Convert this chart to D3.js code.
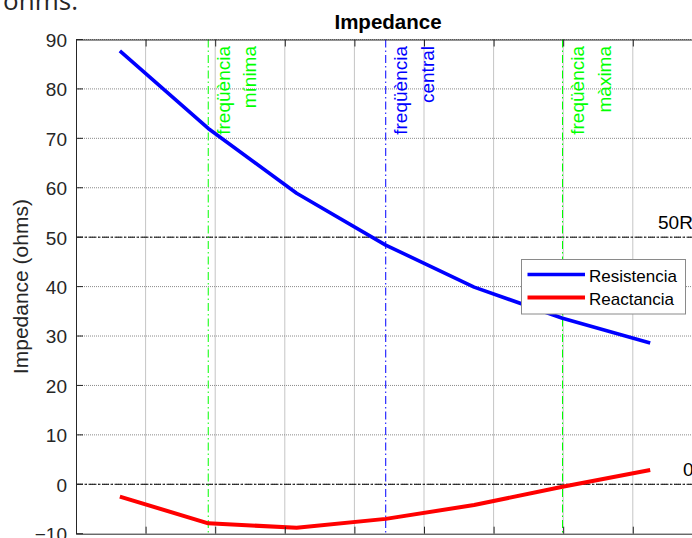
<!DOCTYPE html>
<html>
<head>
<meta charset="utf-8">
<script src="https://cdn.jsdelivr.net/npm/d3@7"></script>
<style>
  html, body { margin: 0; padding: 0; background: #fff; }
  svg { display: block; }
  text { font-family: "Liberation Sans", Arial, Helvetica, sans-serif; }
</style>
</head>
<body>
<svg id="chart" width="692" height="538"></svg>
<script>
// Sweep points (frequency axis units) and measured impedance
const freqs       = [0.63, 1.90, 3.17, 4.45, 5.72, 6.99, 8.25];
const resistencia = [87.7, 72.0, 58.9, 48.4, 39.9, 33.6, 28.6];
const reactancia  = [-2.5, -7.9, -8.8, -7.0, -4.2, -0.5, 2.9];

// Axis ticks
const xTicks = [0, 1, 2, 3, 4, 5, 6, 7, 8, 9];
const yTicks = [-10, 0, 10, 20, 30, 40, 50, 60, 70, 80, 90];

// Band markers: minimum, central and maximum frequency
const markerFreqs  = [1.90, 4.45, 6.99];
const markerLabels = [["freqüència", "mínima"], ["freqüència", "central"], ["freqüència", "màxima"]];
const markerColors = ["#00ff00", "#0000ff", "#00ff00"];

// Reference levels
const refLevels = [50, 0];
const refLabels = ["50R", "0"];

const seriesNames  = ["Resistencia", "Reactancia"];
const seriesColors = ["#0000ff", "#ff0000"];

const svg = d3.select("#chart");
const plotLeft = 76, plotRight = 702.4, plotTop = 39.5, plotBottom = 533.7;

const x = d3.scaleLinear().domain([0, 9]).range([plotLeft, plotRight]);
const y = d3.scaleLinear().domain([-10, 90]).range([plotBottom, plotTop]);

const axisColor = "#262626";

// Document text fragment above the figure
svg.append("text")
  .attr("x", 78).attr("y", 9.5)
  .attr("text-anchor", "end")
  .style("font-family", "'Open Sans', sans-serif")
  .style("font-size", "26px")
  .attr("fill", "#262626")
  .text("ohms.");

// Grid
const grid = svg.append("g");
grid.selectAll("line.gx").data(xTicks.slice(1)).join("line")
  .attr("x1", d => x(d)).attr("x2", d => x(d))
  .attr("y1", plotTop).attr("y2", plotBottom)
  .attr("stroke", "#8a8a8a").attr("stroke-width", 1)
  .attr("stroke-dasharray", "1,1");
grid.selectAll("line.gy").data(yTicks.slice(1)).join("line")
  .attr("x1", plotLeft).attr("x2", plotRight)
  .attr("y1", d => y(d)).attr("y2", d => y(d))
  .attr("stroke", "#8a8a8a").attr("stroke-width", 1)
  .attr("stroke-dasharray", "1,1");

// Reference levels (dash-dot)
svg.selectAll("line.ref").data(refLevels).join("line")
  .attr("x1", plotLeft).attr("x2", plotRight)
  .attr("y1", d => y(d)).attr("y2", d => y(d))
  .attr("stroke", "#000").attr("stroke-width", 1)
  .attr("stroke-dasharray", "7,2,2,2");
svg.selectAll("text.ref").data(refLevels).join("text")
  .attr("x", (d, i) => i === 0 ? 658 : 683)
  .attr("y", d => y(d) - 8.5)
  .style("font-size", "19px")
  .attr("fill", "#000")
  .text((d, i) => refLabels[i]);

// Frequency markers
svg.selectAll("line.mk").data(markerFreqs).join("line")
  .attr("x1", d => x(d)).attr("x2", d => x(d))
  .attr("y1", plotTop).attr("y2", plotBottom)
  .attr("stroke", (d, i) => markerColors[i]).attr("stroke-width", 1)
  .attr("stroke-dasharray", "8,3,1.5,3");

markerFreqs.forEach((f, i) => {
  markerLabels[i].forEach((line, j) => {
    svg.append("text")
      .attr("transform", `translate(${x(f) + 21.5 + j * 26.5},46) rotate(-90)`)
      .attr("text-anchor", "end")
      .style("font-size", "19px")
      .attr("fill", markerColors[i])
      .text(line);
  });
});

// Series
const lineGen = d3.line().x((d, i) => x(freqs[i])).y(d => y(d));
[resistencia, reactancia].forEach((vals, k) => {
  svg.append("path")
    .datum(vals)
    .attr("d", lineGen)
    .attr("fill", "none")
    .attr("stroke", seriesColors[k])
    .attr("stroke-width", k === 0 ? 3.6 : 4)
    .attr("stroke-linejoin", "round");
});

// Axes (box with inward ticks)
const tickLen = 7;
const yAxisL = d3.axisLeft(y).tickValues(yTicks).tickSize(0).tickPadding(9);
const gL = svg.append("g").attr("transform", `translate(${plotLeft},0)`).call(yAxisL);
gL.select(".domain").attr("stroke", axisColor);
gL.selectAll("text").style("font-size", "19px")
  .style("font-family", "'Liberation Sans', Arial, sans-serif")
  .attr("fill", axisColor).attr("dy", "0.36em");

svg.selectAll("line.tl").data(yTicks).join("line")
  .attr("x1", plotLeft).attr("x2", plotLeft + tickLen)
  .attr("y1", d => y(d)).attr("y2", d => y(d))
  .attr("stroke", axisColor);

const xAxisT = d3.axisTop(x).tickValues(xTicks).tickSize(-tickLen).tickFormat("");
const gT = svg.append("g").attr("transform", `translate(0,${plotTop})`).call(xAxisT);
gT.select(".domain").attr("stroke", axisColor);
gT.selectAll("line").attr("stroke", axisColor);

const xAxisB = d3.axisBottom(x).tickValues(xTicks).tickSize(-tickLen).tickFormat("");
const gB = svg.append("g").attr("transform", `translate(0,${plotBottom})`).call(xAxisB);
gB.select(".domain").attr("stroke", axisColor);
gB.selectAll("line").attr("stroke", axisColor);

// Title and axis label
svg.append("text")
  .attr("x", (plotLeft + 700) / 2).attr("y", 29)
  .attr("text-anchor", "middle")
  .style("font-size", "20.5px").style("font-weight", "bold")
  .attr("fill", "#000")
  .text("Impedance");

svg.append("text")
  .attr("transform", `translate(27.5,${(plotTop + plotBottom) / 2}) rotate(-90)`)
  .attr("text-anchor", "middle")
  .style("font-size", "21px")
  .attr("fill", axisColor)
  .text("Impedance (ohms)");

// Legend
const lg = svg.append("g").attr("transform", "translate(521.5,259.5)");
lg.append("rect").attr("width", 164).attr("height", 54.5)
  .attr("fill", "#fff").attr("stroke", "#8a8a8a").attr("stroke-width", 1);
seriesNames.forEach((name, i) => {
  const yy = 15 + i * 23;
  lg.append("line").attr("x1", 6).attr("x2", 63.5)
    .attr("y1", yy).attr("y2", yy)
    .attr("stroke", seriesColors[i]).attr("stroke-width", i === 0 ? 3.6 : 4);
  lg.append("text").attr("x", 67.5).attr("y", yy + 7.2)
    .style("font-size", "17px").attr("fill", "#000").text(name);
});
</script>
</body>
</html>
